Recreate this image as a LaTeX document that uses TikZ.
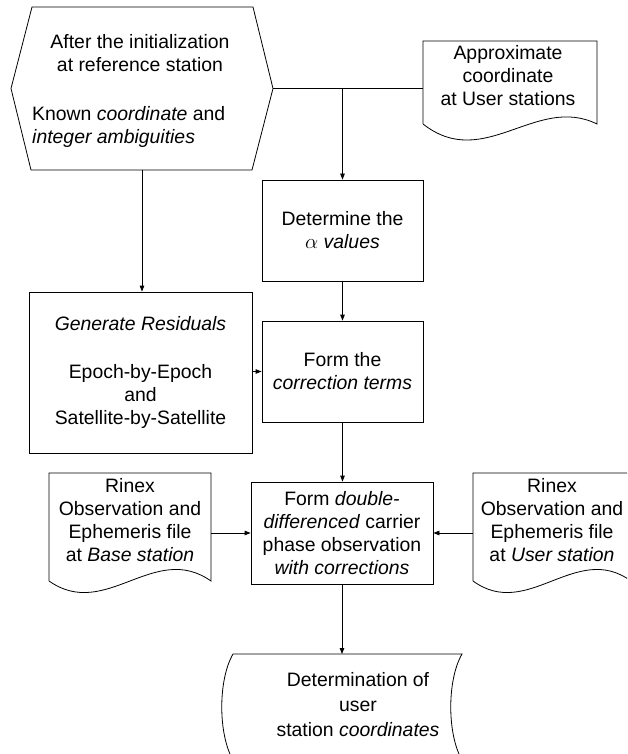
\documentclass[tikz,border=0pt]{standalone}
\usepackage{fontspec}
\setmainfont{Liberation Sans}
\usetikzlibrary{arrows.meta,calc}
\begin{document}
\begin{tikzpicture}[x=1pt,y=-1pt,
  txt/.style={font=\fontsize{19.4}{23}\selectfont, align=center, inner sep=0pt},
  boxnode/.style={draw, line width=0.8pt},
  area/.style={inner sep=0pt, outer sep=0pt},
  outline/.style={draw, line width=0.8pt},
  link/.style={line width=0.8pt},
  arrowlink/.style={link, -{Triangle[length=6pt,width=4.5pt]}}
]
\clip (0,0) rectangle (627,754);

% hexagonal start symbol
\node[area, minimum width=262pt, minimum height=163pt] (hex) at (142,88.5) {};
\draw[outline] (hex.west) -- (32,7) -- (253,7) -- (hex.east) -- (252,170) -- (31,170) -- cycle;
\node[txt] (hexa) at (140,53.5) {After the initialization\\at reference station};
\node[txt, anchor=west, align=left] (hexb) at (32,127) {Known \textit{coordinate} and\\\textit{integer ambiguities}};

% document: approximate coordinates
\node[area, minimum width=174pt, minimum height=83pt] (appr) at (510,82.5) {};
\draw[outline] (423,124) -- (423,41) -- (597,41) -- (597,124)
  .. controls (536,94) and (484,172) .. (423,124);
\node[txt] (apprtxt) at (508,76) {Approximate\\coordinate\\at User stations};

% process boxes
\node[txt, boxnode, minimum width=161pt, minimum height=101pt] (det) at (342.5,230.5)
  {Determine the\\$\alpha$ \textit{values}};
\node[txt, boxnode, minimum width=161pt, minimum height=101pt] (corr) at (342.5,371.5)
  {Form the\\\textit{correction terms}};
\node[txt, boxnode, minimum width=223pt, minimum height=161pt] (gen) at (140.5,372.5)
  {\textit{Generate Residuals}\\[25pt]Epoch-by-Epoch\\and\\Satellite-by-Satellite};
\node[txt, boxnode, minimum width=182pt, minimum height=102pt] (dbl) at (342,533)
  {Form \textit{double-}\\\textit{differenced} carrier\\phase observation\\\textit{with corrections}};

% document: base station files
\node[area, minimum width=162pt, minimum height=109pt] (base) at (130,527.5) {};
\draw[outline] (49,581) -- (49,473) -- (211,473) -- (211,581)
  .. controls (154,541) and (106,621) .. (49,581);
\node[txt] (basetxt) at (130,520) {Rinex\\Observation and\\Ephemeris file\\at \textit{Base station}};

% document: user station files
\node[area, minimum width=158pt, minimum height=109pt] (user) at (552,527.5) {};
\draw[outline] (473,581) -- (473,473) -- (631,473) -- (631,581)
  .. controls (576,541) and (528,621) .. (473,581);
\node[txt] (usertxt) at (552,520) {Rinex\\Observation and\\Ephemeris file\\at \textit{User station}};

% stored data: final result
\node[area, minimum width=229pt, minimum height=106pt] (fin) at (347.5,707) {};
\draw[outline] (233,654) -- (462,654) .. controls (447,680) and (447,734) .. (462,760)
  -- (233,760) .. controls (218,734) and (218,680) .. (233,654) -- cycle;
\node[txt, font=\fontsize{19.4}{25}\selectfont] (fintxt) at (358,705)
  {Determination of\\user\\station \textit{coordinates}};

% connectors
\draw[link] (hex.east) -- (hex.east -| appr.west);
\draw[arrowlink] (hex.east -| det.north) -- (det.north);
\draw[arrowlink] (hex.south) -- (hex.south |- gen.north);
\draw[arrowlink] (det.south) -- (corr.north);
\draw[arrowlink] (corr.west -| gen.east) -- (corr.west);
\draw[arrowlink] (corr.south) -- (corr.south |- dbl.north);
\draw[arrowlink] (dbl.west -| base.east) -- (dbl.west);
\draw[arrowlink] (dbl.east -| user.west) -- (dbl.east);
\draw[arrowlink] (dbl.south) -- (dbl.south |- fin.north);
\end{tikzpicture}
\end{document}
